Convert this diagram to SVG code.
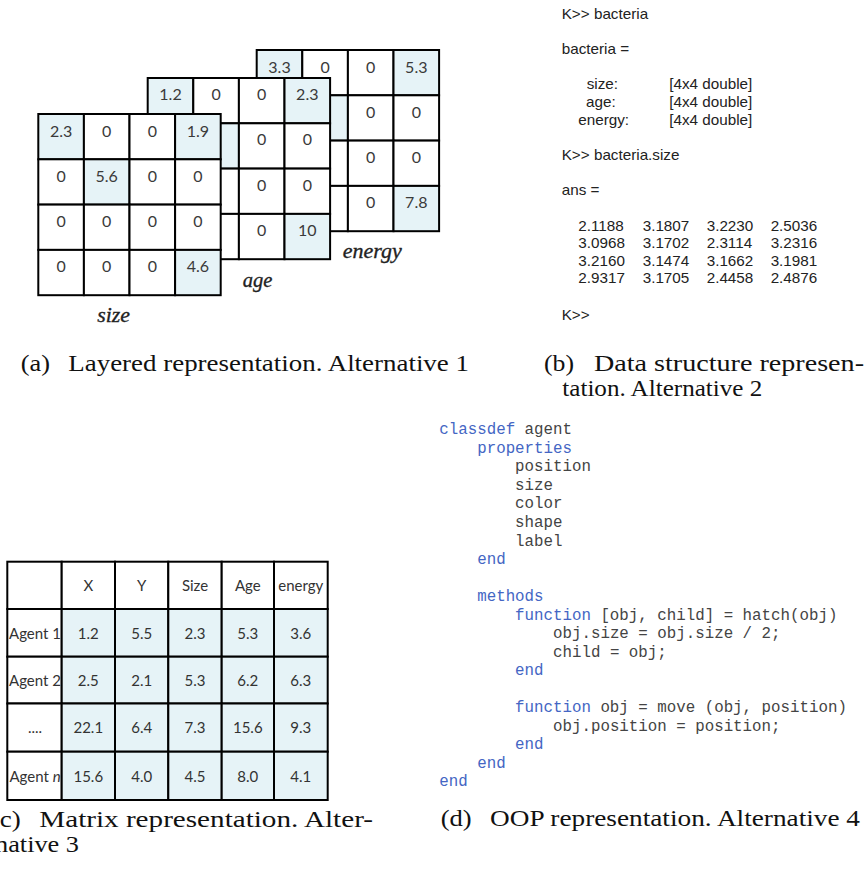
<svg xmlns="http://www.w3.org/2000/svg" width="868" height="870" viewBox="0 0 868 870">
<style>
  .cell { stroke: #000; stroke-width: 2; fill: #fff; }
  .hi { fill: #e6f3f7; }
  .num { font-family: Lato, "Open Sans", sans-serif; font-size: 16px; fill: #3a3a3a; text-anchor: middle; }
  .tnum { font-family: Lato, "Open Sans", sans-serif; font-size: 15px; fill: #333; text-anchor: middle; }
  .lab { font-family: "Liberation Serif", serif; font-style: italic; font-size: 22px; fill: #222; stroke: #222; stroke-width: 0.35; }
  .cap { font-family: "Liberation Serif", serif; font-size: 23.5px; fill: #111; }
  .con { font-family: "Liberation Sans", Arial, sans-serif; font-size: 14px; fill: #222; }
  .code { font-family: "Liberation Mono", "Courier New", monospace; font-size: 15.8px; fill: #444; }
  .kw { fill: #4466c4; }
</style>

<!-- (a) layered representation -->
<g id="grid-energy" transform="translate(256.7,50)">
  <rect class="cell hi" x="0" y="0" width="45.6" height="45.3"/>
  <rect class="cell" x="45.6" y="0" width="45.6" height="45.3"/>
  <rect class="cell" x="91.2" y="0" width="45.6" height="45.3"/>
  <rect class="cell hi" x="136.8" y="0" width="45.6" height="45.3"/>
  <rect class="cell" x="0" y="45.3" width="45.6" height="45.3"/>
  <rect class="cell hi" x="45.6" y="45.3" width="45.6" height="45.3"/>
  <rect class="cell" x="91.2" y="45.3" width="45.6" height="45.3"/>
  <rect class="cell" x="136.8" y="45.3" width="45.6" height="45.3"/>
  <rect class="cell" x="0" y="90.6" width="45.6" height="45.3"/>
  <rect class="cell" x="45.6" y="90.6" width="45.6" height="45.3"/>
  <rect class="cell" x="91.2" y="90.6" width="45.6" height="45.3"/>
  <rect class="cell" x="136.8" y="90.6" width="45.6" height="45.3"/>
  <rect class="cell" x="0" y="135.9" width="45.6" height="45.3"/>
  <rect class="cell" x="45.6" y="135.9" width="45.6" height="45.3"/>
  <rect class="cell" x="91.2" y="135.9" width="45.6" height="45.3"/>
  <rect class="cell hi" x="136.8" y="135.9" width="45.6" height="45.3"/>
  <text class="num" x="22.8" y="22.5">3.3</text>
  <text class="num" x="68.4" y="22.5">0</text>
  <text class="num" x="114" y="22.5">0</text>
  <text class="num" x="159.6" y="22.5">5.3</text>
  <text class="num" x="114" y="67.8">0</text>
  <text class="num" x="159.6" y="67.8">0</text>
  <text class="num" x="114" y="113.1">0</text>
  <text class="num" x="159.6" y="113.1">0</text>
  <text class="num" x="114" y="158.4">0</text>
  <text class="num" x="159.6" y="158.4">7.8</text>
</g>
<g id="grid-age" transform="translate(147.7,78)">
  <rect class="cell hi" x="0" y="0" width="45.6" height="45.3"/>
  <rect class="cell" x="45.6" y="0" width="45.6" height="45.3"/>
  <rect class="cell" x="91.2" y="0" width="45.6" height="45.3"/>
  <rect class="cell hi" x="136.8" y="0" width="45.6" height="45.3"/>
  <rect class="cell" x="0" y="45.3" width="45.6" height="45.3"/>
  <rect class="cell hi" x="45.6" y="45.3" width="45.6" height="45.3"/>
  <rect class="cell" x="91.2" y="45.3" width="45.6" height="45.3"/>
  <rect class="cell" x="136.8" y="45.3" width="45.6" height="45.3"/>
  <rect class="cell" x="0" y="90.6" width="45.6" height="45.3"/>
  <rect class="cell" x="45.6" y="90.6" width="45.6" height="45.3"/>
  <rect class="cell" x="91.2" y="90.6" width="45.6" height="45.3"/>
  <rect class="cell" x="136.8" y="90.6" width="45.6" height="45.3"/>
  <rect class="cell" x="0" y="135.9" width="45.6" height="45.3"/>
  <rect class="cell" x="45.6" y="135.9" width="45.6" height="45.3"/>
  <rect class="cell" x="91.2" y="135.9" width="45.6" height="45.3"/>
  <rect class="cell hi" x="136.8" y="135.9" width="45.6" height="45.3"/>
  <text class="num" x="22.8" y="22">1.2</text>
  <text class="num" x="68.4" y="22">0</text>
  <text class="num" x="114" y="22">0</text>
  <text class="num" x="159.6" y="22">2.3</text>
  <text class="num" x="114" y="67.3">0</text>
  <text class="num" x="159.6" y="67.3">0</text>
  <text class="num" x="114" y="112.6">0</text>
  <text class="num" x="159.6" y="112.6">0</text>
  <text class="num" x="114" y="157.9">0</text>
  <text class="num" x="159.6" y="157.9">10</text>
</g>
<g id="grid-size" transform="translate(38.3,114)">
  <rect class="cell hi" x="0" y="0" width="45.6" height="45.3"/>
  <rect class="cell" x="45.6" y="0" width="45.6" height="45.3"/>
  <rect class="cell" x="91.2" y="0" width="45.6" height="45.3"/>
  <rect class="cell hi" x="136.8" y="0" width="45.6" height="45.3"/>
  <rect class="cell" x="0" y="45.3" width="45.6" height="45.3"/>
  <rect class="cell hi" x="45.6" y="45.3" width="45.6" height="45.3"/>
  <rect class="cell" x="91.2" y="45.3" width="45.6" height="45.3"/>
  <rect class="cell" x="136.8" y="45.3" width="45.6" height="45.3"/>
  <rect class="cell" x="0" y="90.6" width="45.6" height="45.3"/>
  <rect class="cell" x="45.6" y="90.6" width="45.6" height="45.3"/>
  <rect class="cell" x="91.2" y="90.6" width="45.6" height="45.3"/>
  <rect class="cell" x="136.8" y="90.6" width="45.6" height="45.3"/>
  <rect class="cell" x="0" y="135.9" width="45.6" height="45.3"/>
  <rect class="cell" x="45.6" y="135.9" width="45.6" height="45.3"/>
  <rect class="cell" x="91.2" y="135.9" width="45.6" height="45.3"/>
  <rect class="cell hi" x="136.8" y="135.9" width="45.6" height="45.3"/>
  <text class="num" x="22.8" y="22.5">2.3</text>
  <text class="num" x="68.4" y="22.5">0</text>
  <text class="num" x="114" y="22.5">0</text>
  <text class="num" x="159.6" y="22.5">1.9</text>
  <text class="num" x="22.8" y="67.8">0</text>
  <text class="num" x="68.4" y="67.8">5.6</text>
  <text class="num" x="114" y="67.8">0</text>
  <text class="num" x="159.6" y="67.8">0</text>
  <text class="num" x="22.8" y="113.1">0</text>
  <text class="num" x="68.4" y="113.1">0</text>
  <text class="num" x="114" y="113.1">0</text>
  <text class="num" x="159.6" y="113.1">0</text>
  <text class="num" x="22.8" y="158.4">0</text>
  <text class="num" x="68.4" y="158.4">0</text>
  <text class="num" x="114" y="158.4">0</text>
  <text class="num" x="159.6" y="158.4">4.6</text>
</g>
<g id="layer-labels">
  <text class="lab" x="97.3" y="322" textLength="32.7" lengthAdjust="spacingAndGlyphs">size</text>
  <text class="lab" x="242.7" y="286.7" textLength="29.6" lengthAdjust="spacingAndGlyphs">age</text>
  <text class="lab" x="342.7" y="258.3" textLength="59" lengthAdjust="spacingAndGlyphs">energy</text>
</g>

<!-- (b) data structure console -->
<g id="console" transform="translate(561.7,0) scale(1.09,1)">
  <text class="con" x="0" y="19.3">K&gt;&gt; bacteria</text>
  <text class="con" x="0" y="54">bacteria =</text>
  <text class="con" x="22.9" y="89.3">size:</text>
  <text class="con" x="22.3" y="106.7">age:</text>
  <text class="con" x="15.2" y="124.7">energy:</text>
  <text class="con" x="98.7" y="89.3">[4x4 double]</text>
  <text class="con" x="98.7" y="106.7">[4x4 double]</text>
  <text class="con" x="98.7" y="124.7">[4x4 double]</text>
  <text class="con" x="0" y="160">K&gt;&gt; bacteria.size</text>
  <text class="con" x="0" y="195">ans =</text>
  <text class="con" y="230.7"><tspan x="15.2">2.1188</tspan><tspan x="74.3">3.1807</tspan><tspan x="133">3.2230</tspan><tspan x="191.7">2.5036</tspan></text>
  <text class="con" y="248.3"><tspan x="15.2">3.0968</tspan><tspan x="74.3">3.1702</tspan><tspan x="133">2.3114</tspan><tspan x="191.7">3.2316</tspan></text>
  <text class="con" y="265.9"><tspan x="15.2">3.2160</tspan><tspan x="74.3">3.1474</tspan><tspan x="133">3.1662</tspan><tspan x="191.7">3.1981</tspan></text>
  <text class="con" y="283.5"><tspan x="15.2">2.9317</tspan><tspan x="74.3">3.1705</tspan><tspan x="133">2.4458</tspan><tspan x="191.7">2.4876</tspan></text>
  <text class="con" x="0" y="320">K&gt;&gt;</text>
</g>

<!-- (c) matrix table -->
<g id="table">
  <rect class="cell" x="7.3" y="561.7" width="54.4" height="47.3"/>
  <rect class="cell" x="61.7" y="561.7" width="53.3" height="47.3"/>
  <rect class="cell" x="115" y="561.7" width="53.3" height="47.3"/>
  <rect class="cell" x="168.3" y="561.7" width="53.4" height="47.3"/>
  <rect class="cell" x="221.7" y="561.7" width="52.3" height="47.3"/>
  <rect class="cell" x="274" y="561.7" width="53.7" height="47.3"/>

  <rect class="cell" x="7.3" y="609" width="54.4" height="47.7"/>
  <rect class="cell hi" x="61.7" y="609" width="53.3" height="47.7"/>
  <rect class="cell hi" x="115" y="609" width="53.3" height="47.7"/>
  <rect class="cell hi" x="168.3" y="609" width="53.4" height="47.7"/>
  <rect class="cell hi" x="221.7" y="609" width="52.3" height="47.7"/>
  <rect class="cell hi" x="274" y="609" width="53.7" height="47.7"/>

  <rect class="cell" x="7.3" y="656.7" width="54.4" height="46.8"/>
  <rect class="cell hi" x="61.7" y="656.7" width="53.3" height="46.8"/>
  <rect class="cell hi" x="115" y="656.7" width="53.3" height="46.8"/>
  <rect class="cell hi" x="168.3" y="656.7" width="53.4" height="46.8"/>
  <rect class="cell hi" x="221.7" y="656.7" width="52.3" height="46.8"/>
  <rect class="cell hi" x="274" y="656.7" width="53.7" height="46.8"/>

  <rect class="cell" x="7.3" y="703.5" width="54.4" height="48.2"/>
  <rect class="cell hi" x="61.7" y="703.5" width="53.3" height="48.2"/>
  <rect class="cell hi" x="115" y="703.5" width="53.3" height="48.2"/>
  <rect class="cell hi" x="168.3" y="703.5" width="53.4" height="48.2"/>
  <rect class="cell hi" x="221.7" y="703.5" width="52.3" height="48.2"/>
  <rect class="cell hi" x="274" y="703.5" width="53.7" height="48.2"/>

  <rect class="cell" x="7.3" y="751.7" width="54.4" height="48.3"/>
  <rect class="cell hi" x="61.7" y="751.7" width="53.3" height="48.3"/>
  <rect class="cell hi" x="115" y="751.7" width="53.3" height="48.3"/>
  <rect class="cell hi" x="168.3" y="751.7" width="53.4" height="48.3"/>
  <rect class="cell hi" x="221.7" y="751.7" width="52.3" height="48.3"/>
  <rect class="cell hi" x="274" y="751.7" width="53.7" height="48.3"/>

  <text class="tnum" y="591"><tspan x="88.3">X</tspan><tspan x="141.7">Y</tspan><tspan x="195">Size</tspan><tspan x="247.8">Age</tspan><tspan x="300.8">energy</tspan></text>
  <text class="tnum" y="639"><tspan x="35">Agent 1</tspan><tspan x="88.3">1.2</tspan><tspan x="141.7">5.5</tspan><tspan x="195">2.3</tspan><tspan x="247.8">5.3</tspan><tspan x="300.8">3.6</tspan></text>
  <text class="tnum" y="686.2"><tspan x="35">Agent 2</tspan><tspan x="88.3">2.5</tspan><tspan x="141.7">2.1</tspan><tspan x="195">5.3</tspan><tspan x="247.8">6.2</tspan><tspan x="300.8">6.3</tspan></text>
  <text class="tnum" y="733.4"><tspan x="35">....</tspan><tspan x="88.3">22.1</tspan><tspan x="141.7">6.4</tspan><tspan x="195">7.3</tspan><tspan x="247.8">15.6</tspan><tspan x="300.8">9.3</tspan></text>
  <text class="tnum" y="781.7"><tspan x="35">Agent <tspan font-style="italic">n</tspan></tspan></text>
  <text class="tnum" y="781.7"><tspan x="88.3">15.6</tspan><tspan x="141.7">4.0</tspan><tspan x="195">4.5</tspan><tspan x="247.8">8.0</tspan><tspan x="300.8">4.1</tspan></text>
</g>

<!-- (d) OOP code -->
<g id="code">
  <text class="code" y="434.3"><tspan class="kw" x="439.3">classdef</tspan><tspan x="524.6">agent</tspan></text>
  <text class="code kw" x="477.2" y="452.8">properties</text>
  <text class="code" x="515.1" y="471.4">position</text>
  <text class="code" x="515.1" y="489.9">size</text>
  <text class="code" x="515.1" y="508.4">color</text>
  <text class="code" x="515.1" y="527">shape</text>
  <text class="code" x="515.1" y="545.5">label</text>
  <text class="code kw" x="477.2" y="564">end</text>
  <text class="code kw" x="477.2" y="601.1">methods</text>
  <text class="code" y="619.6"><tspan class="kw" x="515.1">function</tspan><tspan x="600.4">[obj, child] = hatch(obj)</tspan></text>
  <text class="code" x="553" y="638.2">obj.size = obj.size / 2;</text>
  <text class="code" x="553" y="656.7">child = obj;</text>
  <text class="code kw" x="515.1" y="675.2">end</text>
  <text class="code" y="712.3"><tspan class="kw" x="515.1">function</tspan><tspan x="600.4">obj = move (obj, position)</tspan></text>
  <text class="code" x="553" y="730.8">obj.position = position;</text>
  <text class="code kw" x="515.1" y="749.3">end</text>
  <text class="code kw" x="477.2" y="767.9">end</text>
  <text class="code kw" x="439.3" y="786.4">end</text>
</g>

<!-- captions -->
<g id="captions">
  <text class="cap" x="20.7" y="371" textLength="29.3" lengthAdjust="spacingAndGlyphs">(a)</text>
  <text class="cap" x="68.3" y="371" textLength="400.7" lengthAdjust="spacingAndGlyphs">Layered representation. Alternative 1</text>
  <text class="cap" x="544" y="371" textLength="30" lengthAdjust="spacingAndGlyphs">(b)</text>
  <text class="cap" x="594" y="371" textLength="270" lengthAdjust="spacingAndGlyphs">Data structure represen-</text>
  <text class="cap" x="562.3" y="396" textLength="200" lengthAdjust="spacingAndGlyphs">tation. Alternative 2</text>
  <text class="cap" x="-9.3" y="827" textLength="30" lengthAdjust="spacingAndGlyphs">(c)</text>
  <text class="cap" x="39.3" y="827" textLength="333.7" lengthAdjust="spacingAndGlyphs">Matrix representation. Alter-</text>
  <text class="cap" x="-5" y="852" textLength="84" lengthAdjust="spacingAndGlyphs">native 3</text>
  <text class="cap" x="440.7" y="826" textLength="31" lengthAdjust="spacingAndGlyphs">(d)</text>
  <text class="cap" x="490" y="826" textLength="370" lengthAdjust="spacingAndGlyphs">OOP representation. Alternative 4</text>
</g>
</svg>
